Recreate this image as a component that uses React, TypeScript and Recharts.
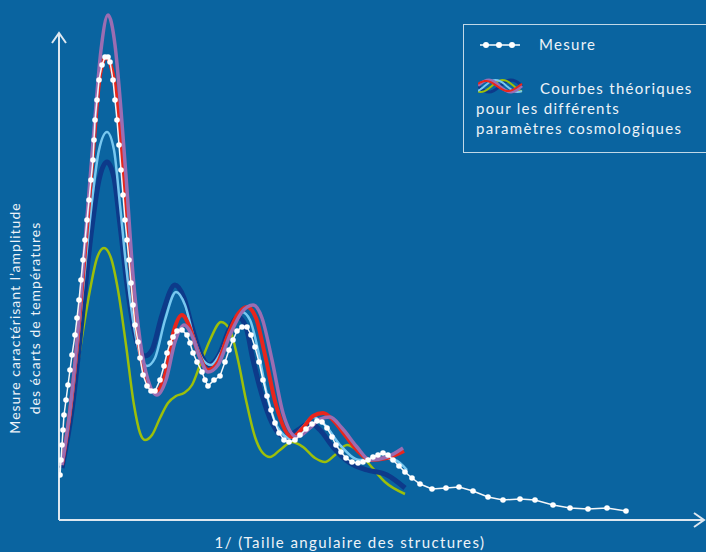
import React from "react";
import { LineChart, Line, XAxis, YAxis, ReferenceLine } from "recharts";

// values (x: 1/angular size, y: amplitude), arbitrary units
const measure: [number, number][] = [
  [1, 45], [2, 60], [3, 75], [4, 90], [5, 105], [7, 120], [9, 135], [11, 150], [13, 165], [16, 185],
  [18, 202], [20, 220], [22, 240], [24, 260], [26, 280], [28, 300], [30, 320], [32, 340], [34, 360],
  [35, 380], [36, 400], [38, 420], [40, 440], [43, 455], [46, 463], [49, 463], [51, 458], [54, 440],
  [56, 420], [58, 400], [60, 375], [62, 350], [64, 325], [66, 300], [68, 280], [70, 260], [72, 237],
  [74, 215], [76, 195], [79, 178], [81, 162], [84, 145], [88, 134], [92, 129], [96, 129], [101, 140],
  [105, 154], [108, 167], [111, 177], [114, 183], [118, 189], [123, 190], [128, 185], [131, 177],
  [134, 167], [138, 158], [143, 148], [146, 140], [149, 134], [155, 140], [161, 144], [166, 158],
  [170, 170], [174, 180], [178, 189], [183, 193], [188, 193], [192, 185], [196, 173], [200, 158],
  [204, 140], [208, 124], [212, 110], [216, 97], [220, 87], [225, 80], [230, 78], [236, 80], [241, 85],
  [247, 91], [253, 96], [258, 99], [263, 98], [268, 92], [273, 83], [277, 75], [282, 68], [287, 62],
  [293, 58], [299, 57], [304, 58], [309, 60], [314, 63], [319, 65], [324, 67], [329, 65], [334, 60],
  [340, 54], [346, 48], [353, 42], [361, 36], [373, 31], [387, 32], [400, 33], [414, 29], [429, 23],
  [444, 20], [461, 21], [476, 20], [494, 15], [511, 12], [529, 11], [548, 12], [567, 9],
];

const purple: [number, number][] = [
  [3, 55], [11, 110], [19, 190], [27, 290], [35, 390], [42, 470], [49, 505], [56, 475], [62, 410],
  [68, 330], [74, 245], [81, 180], [89, 140], [98, 125], [107, 140], [116, 178], [125, 195], [134, 182],
  [141, 162], [149, 148], [159, 155], [171, 185], [183, 208], [194, 215], [203, 202], [213, 160],
  [224, 107], [238, 83], [251, 92], [261, 101], [271, 103], [283, 92], [298, 73], [311, 60], [328, 63],
  [344, 72],
];

const red: [number, number][] = [
  [3, 55], [11, 108], [19, 185], [27, 280], [35, 380], [41, 445], [47, 463], [53, 450], [59, 410],
  [65, 340], [71, 260], [78, 190], [86, 145], [96, 128], [106, 145], [115, 190], [123, 205], [131, 192],
  [139, 168], [149, 150], [159, 158], [169, 185], [179, 206], [188, 213], [197, 202], [206, 165],
  [217, 115], [233, 83], [244, 92], [254, 104], [264, 107], [274, 100], [286, 85], [298, 70], [311, 60],
  [328, 62], [345, 69],
];

const lightBlue: [number, number][] = [
  [3, 55], [13, 120], [23, 220], [32, 310], [40, 370], [48, 388], [55, 370], [61, 315], [67, 255],
  [74, 200], [81, 165], [88, 154], [96, 162], [106, 200], [117, 228], [126, 215], [135, 182], [144, 160],
  [152, 155], [162, 168], [173, 195], [183, 208], [191, 200], [199, 170], [208, 125], [219, 92], [231, 82],
  [243, 92], [254, 103], [266, 95], [281, 75], [301, 60], [321, 62], [336, 60], [348, 50],
];

const darkBlue: [number, number][] = [
  [3, 52], [13, 110], [23, 200], [32, 285], [40, 340], [48, 358], [55, 342], [61, 295], [68, 235],
  [75, 190], [81, 170], [86, 164], [93, 170], [103, 205], [116, 235], [125, 222], [133, 193], [141, 168],
  [150, 155], [160, 165], [170, 190], [179, 203], [187, 193], [194, 160], [203, 125], [213, 97], [226, 83],
  [239, 90], [251, 97], [261, 90], [274, 73], [291, 57], [308, 50], [328, 45], [346, 32],
];

const yellow: [number, number][] = [
  [4, 65], [11, 100], [21, 170], [31, 230], [38, 262], [45, 272], [52, 262], [59, 230], [67, 175],
  [75, 115], [81, 87], [86, 80], [93, 85], [101, 102], [109, 117], [117, 124], [125, 127], [133, 135],
  [141, 155], [151, 180], [162, 198], [171, 190], [179, 160], [187, 120], [196, 83], [203, 68], [211, 63],
  [221, 70], [233, 78], [244, 73], [256, 62], [266, 58], [276, 65], [288, 75], [298, 70], [311, 55],
  [326, 38], [346, 26],
];

const X_DOMAIN: [number, number] = [0, 647];
const Y_DOMAIN: [number, number] = [0, 510];
const X_ARROW = 645;
const Y_ARROW = 487;

const BG = "#0a64a0";
const AXIS = "#dde7f0";
const TEXT = "#eef3f8";
const FONT = "Lato, 'Open Sans', sans-serif";

const toPts = (arr: [number, number][]) => arr.map(([x, y]) => ({ x, y }));

function ArrowLine(props: any) {
  const { x1, y1, x2, y2 } = props;
  const dx = x2 - x1;
  const dy = y2 - y1;
  const len = Math.hypot(dx, dy) || 1;
  const ux = dx / len;
  const uy = dy / len;
  const bx = x2 - ux * 10;
  const by = y2 - uy * 10;
  const px = -uy * 7;
  const py = ux * 7;
  return (
    <g>
      <line x1={x1} y1={y1} x2={x2} y2={y2} stroke={AXIS} strokeWidth={2} />
      <polyline
        points={`${bx + px},${by + py} ${x2},${y2} ${bx - px},${by - py}`}
        fill="none"
        stroke={AXIS}
        strokeWidth={2}
      />
    </g>
  );
}

function TheoryIcon() {
  const wave = (phase: number, amp: number) => {
    let d = "";
    for (let i = 0; i <= 20; i++) {
      const x = i * 2.2;
      const y = 9 + amp * Math.sin(i / 3.2 + phase);
      d += (i === 0 ? "M" : "L") + x.toFixed(1) + "," + y.toFixed(1);
    }
    return d;
  };
  return (
    <svg width={46} height={20} style={{ position: "absolute", left: 14, top: 52 }}>
      <path d={wave(0, 6)} stroke="#0d3a8a" strokeWidth={3} fill="none" />
      <path d={wave(1.2, 6)} stroke="#9cbf0a" strokeWidth={2} fill="none" />
      <path d={wave(2.2, 6)} stroke="#78c8f0" strokeWidth={2} fill="none" />
      <path d={wave(3.2, 6)} stroke="#9b6db2" strokeWidth={3} fill="none" />
      <path d={wave(3.6, 5)} stroke="#e8261c" strokeWidth={2} fill="none" />
    </svg>
  );
}

export default function App() {
  return (
    <div style={{ position: "relative", width: 706, height: 552, background: BG, overflow: "hidden", fontFamily: FONT }}>
      <style>{`body{margin:0;background:${BG};}`}</style>
      <LineChart width={706} height={552} margin={{ top: 10, right: 0, bottom: 32, left: 59 }}>
        <XAxis type="number" dataKey="x" domain={X_DOMAIN} hide allowDataOverflow />
        <YAxis type="number" domain={Y_DOMAIN} hide allowDataOverflow />
        <ReferenceLine segment={[{ x: 0, y: 0 }, { x: 0, y: Y_ARROW }]} shape={ArrowLine} />
        <ReferenceLine segment={[{ x: 0, y: 0 }, { x: X_ARROW, y: 0 }]} shape={ArrowLine} />
        <Line data={toPts(yellow)} dataKey="y" type="monotone" stroke="#9cbf0a" strokeWidth={2.5} dot={false} isAnimationActive={false} />
        <Line data={toPts(darkBlue)} dataKey="y" type="monotone" stroke="#0d3a8a" strokeWidth={5} dot={false} isAnimationActive={false} />
        <Line data={toPts(lightBlue)} dataKey="y" type="monotone" stroke="#78c8f0" strokeWidth={2.5} dot={false} isAnimationActive={false} />
        <Line data={toPts(red)} dataKey="y" type="monotone" stroke="#e8261c" strokeWidth={4} dot={false} isAnimationActive={false} />
        <Line data={toPts(purple)} dataKey="y" type="monotone" stroke="#9b6db2" strokeWidth={3.5} dot={false} isAnimationActive={false} />
        <Line
          data={toPts(measure)}
          dataKey="y"
          type="linear"
          stroke="#f4f6f8"
          strokeWidth={1.5}
          dot={{ r: 2.8, fill: "#ffffff", stroke: "none" }}
          isAnimationActive={false}
        />
      </LineChart>

      <div
        style={{
          position: "absolute",
          left: -125,
          top: 298,
          width: 300,
          height: 40,
          transform: "rotate(-90deg)",
          textAlign: "center",
          color: TEXT,
          fontSize: 14,
          lineHeight: "20px",
          letterSpacing: 1.0,
        }}
      >
        Mesure caractérisant l’amplitude
        <br />
        des écarts de températures
      </div>

      <div
        style={{
          position: "absolute",
          left: 100,
          top: 533,
          width: 500,
          textAlign: "center",
          color: TEXT,
          fontSize: 15,
          letterSpacing: 1.4,
        }}
      >
        1/ (Taille angulaire des structures)
      </div>

      <div
        style={{
          position: "absolute",
          left: 463,
          top: 24,
          width: 250,
          height: 127,
          border: "1px solid rgba(255,255,255,0.75)",
          color: TEXT,
          fontSize: 15,
          letterSpacing: 1.3,
        }}
      >
        <svg width={44} height={10} style={{ position: "absolute", left: 14, top: 15 }}>
          <line x1={2} y1={5} x2={42} y2={5} stroke="#fff" strokeWidth={1.5} />
          <circle cx={8} cy={5} r={3} fill="#fff" />
          <circle cx={21} cy={5} r={3} fill="#fff" />
          <circle cx={34} cy={5} r={3} fill="#fff" />
        </svg>
        <div style={{ position: "absolute", left: 75, top: 10 }}>Mesure</div>
        <TheoryIcon />
        <div style={{ position: "absolute", left: 12, top: 53, lineHeight: "20px" }}>
          <span style={{ marginLeft: 64 }}>Courbes théoriques</span>
          <br />
          pour les différents
          <br />
          paramètres cosmologiques
        </div>
      </div>
    </div>
  );
}
